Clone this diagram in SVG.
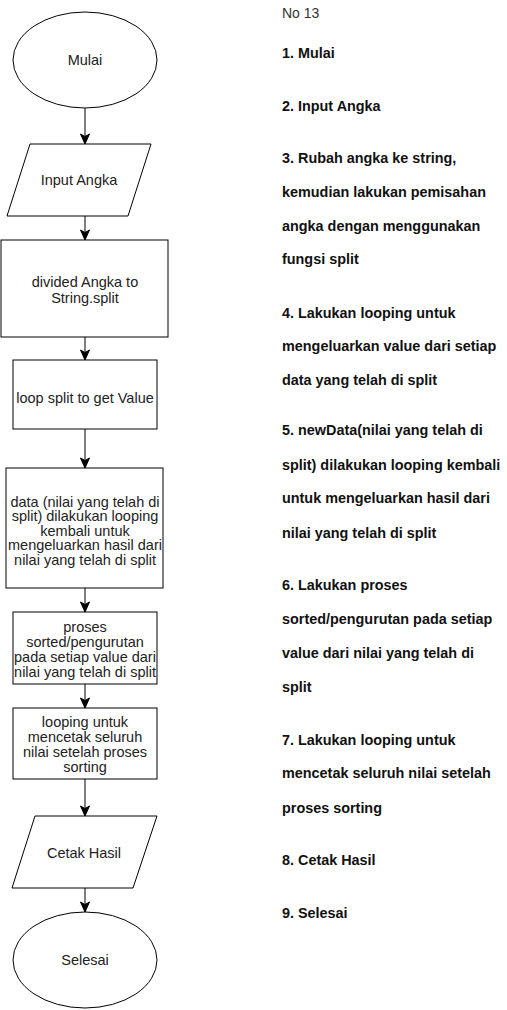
<svg xmlns="http://www.w3.org/2000/svg" width="507" height="1010" viewBox="0 0 507 1010">
<style>
.shape{fill:#fff;stroke:#000;stroke-width:1}
.lbl{font-family:"Liberation Sans",Arial,sans-serif;font-size:14.5px;fill:#222;text-anchor:middle}
.note{font-family:"Liberation Sans",Arial,sans-serif;font-size:14.4px;font-weight:bold;fill:#111}
.title{font-family:"Liberation Sans",Arial,sans-serif;font-size:14px;fill:#333}
.edge{stroke:#000;stroke-width:1;fill:none;marker-end:url(#arr)}
</style>
<defs>
<marker id="arr" markerUnits="userSpaceOnUse" markerWidth="12" markerHeight="12" viewBox="0 0 12 12" refX="11" refY="6" orient="auto">
<path d="M1,1.5 L11,6 L1,10.5 L3.5,6 z" fill="#000" stroke="#000" stroke-width="1"/>
</marker>
</defs>
<rect width="507" height="1010" fill="#fff"/>
<g id="connectors">
<line class="edge" x1="85" y1="108" x2="85" y2="144"/>
<line class="edge" x1="85" y1="216" x2="85" y2="240"/>
<line class="edge" x1="85" y1="337" x2="85" y2="360"/>
<line class="edge" x1="85" y1="429" x2="85" y2="468"/>
<line class="edge" x1="85" y1="588" x2="85" y2="612"/>
<line class="edge" x1="85" y1="684" x2="85" y2="708"/>
<line class="edge" x1="85" y1="779" x2="85" y2="816"/>
<line class="edge" x1="85" y1="888" x2="85" y2="912"/>
</g>
<g id="mulai">
<ellipse class="shape" cx="85" cy="60" rx="72" ry="48"/>
<text class="lbl" x="85" y="65">Mulai</text>
</g>
<g id="input">
<polygon class="shape" points="30,144 151,144 128,216 7,216"/>
<text class="lbl" x="79" y="185">Input Angka</text>
</g>
<g id="divided">
<rect class="shape" x="1" y="240" width="167" height="97"/>
<text class="lbl" x="85" y="287">divided Angka to</text>
<text class="lbl" x="85" y="303">String.split</text>
</g>
<g id="loopsplit">
<rect class="shape" x="13" y="360" width="144" height="69"/>
<text class="lbl" x="85" y="403">loop split to get Value</text>
</g>
<g id="data">
<rect class="shape" x="6" y="468" width="157" height="120"/>
<text class="lbl" x="85" y="507">data (nilai yang telah di</text>
<text class="lbl" x="85" y="521">split) dilakukan looping</text>
<text class="lbl" x="85" y="536">kembali untuk</text>
<text class="lbl" x="85" y="550">mengeluarkan hasil dari</text>
<text class="lbl" x="85" y="565">nilai yang telah di split</text>
</g>
<g id="proses">
<rect class="shape" x="13" y="612" width="144" height="72"/>
<text class="lbl" x="85" y="632">proses</text>
<text class="lbl" x="85" y="647">sorted/pengurutan</text>
<text class="lbl" x="85" y="662">pada setiap value dari</text>
<text class="lbl" x="85" y="677">nilai yang telah di split</text>
</g>
<g id="looping">
<rect class="shape" x="13" y="708" width="144" height="71"/>
<text class="lbl" x="85" y="727">looping untuk</text>
<text class="lbl" x="85" y="742">mencetak seluruh</text>
<text class="lbl" x="85" y="757">nilai setelah proses</text>
<text class="lbl" x="85" y="772">sorting</text>
</g>
<g id="cetak">
<polygon class="shape" points="35,816 157,816 133,888 12,888"/>
<text class="lbl" x="84" y="858">Cetak Hasil</text>
</g>
<g id="selesai">
<ellipse class="shape" cx="85" cy="960" rx="72" ry="48"/>
<text class="lbl" x="85" y="965">Selesai</text>
</g>
<g id="notes">
<text class="title" x="282" y="18">No 13</text>
<text class="note" x="282" y="58">1. Mulai</text>
<text class="note" x="282" y="111">2. Input Angka</text>
<text class="note" x="282" y="163">3. Rubah angka ke string,</text>
<text class="note" x="282" y="197">kemudian lakukan pemisahan</text>
<text class="note" x="282" y="231">angka dengan menggunakan</text>
<text class="note" x="282" y="264">fungsi split</text>
<text class="note" x="282" y="318">4. Lakukan looping untuk</text>
<text class="note" x="282" y="351">mengeluarkan value dari setiap</text>
<text class="note" x="282" y="385">data yang telah di split</text>
<text class="note" x="282" y="435">5. newData(nilai yang telah di</text>
<text class="note" x="282" y="470">split) dilakukan looping kembali</text>
<text class="note" x="282" y="503">untuk mengeluarkan hasil dari</text>
<text class="note" x="282" y="538">nilai yang telah di split</text>
<text class="note" x="282" y="590">6. Lakukan proses</text>
<text class="note" x="282" y="624">sorted/pengurutan pada setiap</text>
<text class="note" x="282" y="658">value dari nilai yang telah di</text>
<text class="note" x="282" y="692">split</text>
<text class="note" x="282" y="745">7. Lakukan looping untuk</text>
<text class="note" x="282" y="778">mencetak seluruh nilai setelah</text>
<text class="note" x="282" y="813">proses sorting</text>
<text class="note" x="282" y="865">8. Cetak Hasil</text>
<text class="note" x="282" y="918">9. Selesai</text>
</g>
</svg>
